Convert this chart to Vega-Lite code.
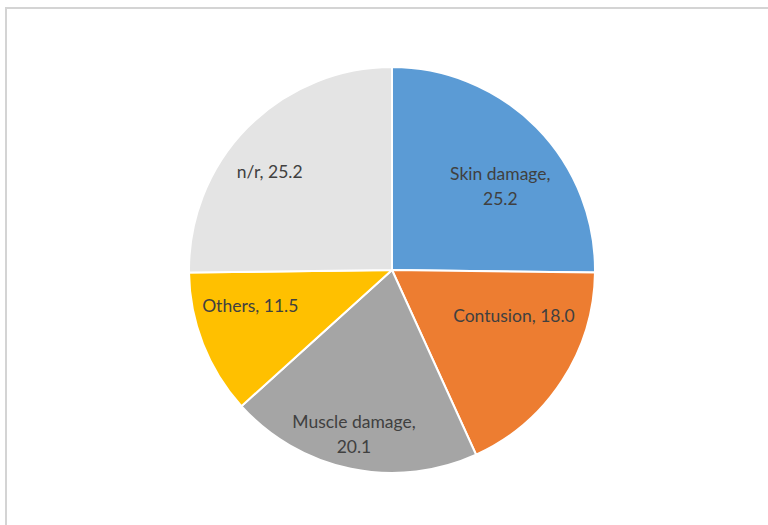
{
  "$schema": "https://vega.github.io/schema/vega-lite/v6.json",
  "width": 772,
  "height": 524,
  "autosize": "none",
  "padding": {"left": 6, "top": 8, "right": -10, "bottom": -7},
  "background": "white",
  "view": {"stroke": "#D4D4D4", "strokeWidth": 2},
  "data": {
    "values": [
      {"rank": 1, "category": "Skin damage", "value": 25.2, "label": "Skin damage,\n25.2"},
      {"rank": 2, "category": "Contusion", "value": 18.0, "label": "Contusion, 18.0"},
      {"rank": 3, "category": "Muscle damage", "value": 20.1, "label": "Muscle damage,\n20.1"},
      {"rank": 4, "category": "Others", "value": 11.5, "label": "Others, 11.5"},
      {"rank": 5, "category": "n/r", "value": 25.2, "label": "n/r, 25.2"}
    ]
  },
  "transform": [
    {"stack": "value", "groupby": [], "sort": [{"field": "rank", "order": "ascending"}], "as": ["v0", "v1"]},
    {"calculate": "(datum.v0 + datum.v1) / 2", "as": "mid"}
  ],
  "layer": [
    {
      "mark": {"type": "arc", "outerRadius": 203, "stroke": "white", "strokeWidth": 2},
      "encoding": {
        "theta": {"field": "v0", "type": "quantitative", "scale": {"domain": [0, 100]}},
        "theta2": {"field": "v1"},
        "color": {
          "field": "category",
          "type": "nominal",
          "scale": {
            "domain": ["Skin damage", "Contusion", "Muscle damage", "Others", "n/r"],
            "range": ["#5B9BD5", "#ED7D31", "#A5A5A5", "#FFC000", "#E4E4E4"]
          },
          "legend": null
        }
      }
    },
    {
      "transform": [{"filter": "datum.category === 'Skin damage'"}],
      "mark": {"type": "text", "radius": 148, "dx": 3, "dy": 9, "font": "Lato", "fontSize": 17.5, "lineBreak": "\n", "lineHeight": 25, "align": "center", "baseline": "middle", "color": "#404040"},
      "encoding": {"theta": {"field": "mid", "type": "quantitative", "scale": {"domain": [0, 100]}}, "text": {"field": "label"}}
    },
    {
      "transform": [{"filter": "datum.category === 'Contusion'"}],
      "mark": {"type": "text", "radius": 148, "dx": -2, "dy": -34, "font": "Lato", "fontSize": 17.5, "lineBreak": "\n", "lineHeight": 25, "align": "center", "baseline": "middle", "color": "#404040"},
      "encoding": {"theta": {"field": "mid", "type": "quantitative", "scale": {"domain": [0, 100]}}, "text": {"field": "label"}}
    },
    {
      "transform": [{"filter": "datum.category === 'Muscle damage'"}],
      "mark": {"type": "text", "radius": 148, "dx": -8, "dy": 8, "font": "Lato", "fontSize": 17.5, "lineBreak": "\n", "lineHeight": 25, "align": "center", "baseline": "middle", "color": "#404040"},
      "encoding": {"theta": {"field": "mid", "type": "quantitative", "scale": {"domain": [0, 100]}}, "text": {"field": "label"}}
    },
    {
      "transform": [{"filter": "datum.category === 'Others'"}],
      "mark": {"type": "text", "radius": 148, "dx": -4, "dy": -17, "font": "Lato", "fontSize": 17.5, "lineBreak": "\n", "lineHeight": 25, "align": "center", "baseline": "middle", "color": "#404040"},
      "encoding": {"theta": {"field": "mid", "type": "quantitative", "scale": {"domain": [0, 100]}}, "text": {"field": "label"}}
    },
    {
      "transform": [{"filter": "datum.category === 'n/r'"}],
      "mark": {"type": "text", "radius": 148, "dx": -17, "dy": 7, "font": "Lato", "fontSize": 17.5, "lineBreak": "\n", "lineHeight": 25, "align": "center", "baseline": "middle", "color": "#404040"},
      "encoding": {"theta": {"field": "mid", "type": "quantitative", "scale": {"domain": [0, 100]}}, "text": {"field": "label"}}
    }
  ]
}
